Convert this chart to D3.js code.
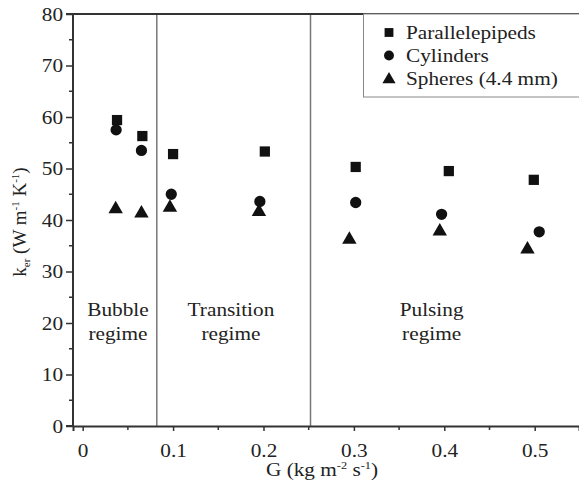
<!DOCTYPE html>
<html>
<head>
<meta charset="utf-8">
<script src="https://cdn.jsdelivr.net/npm/d3@7"></script>
<style>
  body { margin: 0; background: #fff; }
</style>
</head>
<body>
<svg id="chart"></svg>
<script>
// values
const gPar = [0.038, 0.066, 0.100, 0.2015, 0.302, 0.405, 0.499];
const kPar = [59.4, 56.3, 52.8, 53.3, 50.3, 49.5, 47.8];
const gCyl = [0.037, 0.065, 0.098, 0.196, 0.302, 0.397, 0.505];
const kCyl = [57.5, 53.5, 45.0, 43.6, 43.4, 41.1, 37.7];
const gSph = [0.0365, 0.065, 0.0965, 0.195, 0.295, 0.395, 0.492];
const kSph = [42.3, 41.5, 42.6, 41.8, 36.4, 38.0, 34.5];
const regimeBounds = [0.082, 0.252];
const regimes = [
  { x: 0.039, lines: ["Bubble", "regime"] },
  { x: 0.164, lines: ["Transition", "regime"] },
  { x: 0.386, lines: ["Pulsing", "regime"] }
];
const xTicks = [0, 0.1, 0.2, 0.3, 0.4, 0.5];
const yTicks = [0, 10, 20, 30, 40, 50, 60, 70, 80];
const seriesNames = ["Parallelepipeds", "Cylinders", "Spheres (4.4 mm)"];

const width = 579, height = 487;
const FONT = '"Liberation Serif", "Times New Roman", serif';
const FS = 19, SX = 1.12;   // the figure's type is a little wide, so stretch it

const svg = d3.select("#chart").attr("width", width).attr("height", height);

const x = d3.scaleLinear().domain([-0.0107, 0.549]).range([73, 579]);
const y = d3.scaleLinear().domain([0, 80]).range([426, 14]);

const ink = "#111";

// text placed at (px, py) with the horizontal stretch
function label(px, py, anchor) {
  return svg.append("text")
    .attr("transform", `translate(${px},${py}) scale(${SX},1)`)
    .attr("text-anchor", anchor || "start")
    .style("font-family", FONT)
    .style("font-size", FS + "px")
    .attr("fill", "#222");
}

// regime separators
svg.append("g").selectAll("line")
  .data(regimeBounds)
  .enter().append("line")
  .attr("x1", d => x(d)).attr("x2", d => x(d))
  .attr("y1", y(80)).attr("y2", y(0))
  .attr("stroke", "#777").attr("stroke-width", 1.5);

// regime labels
regimes.forEach(r => {
  r.lines.forEach((s, i) => {
    label(x(r.x), 316 + i * 24, "middle").text(s);
  });
});

// axes
let xAxis = svg.append("g")
  .attr("transform", `translate(0,${y(0)})`)
  .call(d3.axisBottom(x).tickValues(xTicks).tickSize(5).tickPadding(6)
    .tickFormat(d => d === 0 ? "0" : d3.format(".1f")(d)));
xAxis.append("g").selectAll("line")
  .data([0.05, 0.15, 0.25, 0.35, 0.45])
  .enter().append("line")
  .attr("x1", d => x(d)).attr("x2", d => x(d))
  .attr("y1", 0).attr("y2", 4)
  .attr("stroke", "#333").attr("stroke-width", 1.5);

let yAxis = svg.append("g")
  .attr("transform", `translate(${x.range()[0]},0)`)
  .call(d3.axisLeft(y).tickValues(yTicks).tickSize(7).tickPadding(3));
yAxis.append("g").selectAll("line")
  .data([5, 15, 25, 35, 45, 55, 65, 75])
  .enter().append("line")
  .attr("y1", d => y(d)).attr("y2", d => y(d))
  .attr("x1", 0).attr("x2", -4)
  .attr("stroke", "#333").attr("stroke-width", 1.5);

[xAxis, yAxis].forEach(a => {
  a.select(".domain").attr("stroke", "#333").attr("stroke-width", 2);
  a.selectAll(".tick line").attr("stroke", "#333").attr("stroke-width", 1.5);
  a.selectAll(".tick text")
    .style("font-family", FONT)
    .style("font-size", FS + "px")
    .attr("fill", "#222")
    .attr("transform", `scale(${SX},1)`);
});
xAxis.selectAll(".tick text").attr("dy", "1.05em");
yAxis.selectAll(".tick text").attr("x", -10 / SX).attr("dy", "0.34em");
yAxis.selectAll(".domain").attr("d", `M-7,${y(80)}H0V${y(0)}H-7`);

// top frame
svg.append("line")
  .attr("x1", x.range()[0]).attr("x2", width)
  .attr("y1", y(80)).attr("y2", y(80))
  .attr("stroke", "#333").attr("stroke-width", 2);

// markers
const shapes = [d3.symbolSquare, d3.symbolCircle, d3.symbolTriangle];
const sizes = [105, 100, 90];
const series = [
  gPar.map((g, i) => ({ g: g, k: kPar[i] })),
  gCyl.map((g, i) => ({ g: g, k: kCyl[i] })),
  gSph.map((g, i) => ({ g: g, k: kSph[i] }))
];
series.forEach((s, si) => {
  svg.append("g").selectAll("path")
    .data(s)
    .enter().append("path")
    .attr("d", d3.symbol().type(shapes[si]).size(sizes[si]))
    .attr("transform", d => `translate(${x(d.g)},${y(d.k) + (si === 2 ? 1 : 0)})`)
    .attr("fill", ink);
});

// legend
svg.append("rect")
  .attr("x", 363.5).attr("y", y(80))
  .attr("width", width - 363).attr("height", 83)
  .attr("fill", "#fff").attr("stroke", "#888").attr("stroke-width", 1);
const legendSizes = [78, 78, 75];
seriesNames.forEach((name, i) => {
  let yy = 32.5 + i * 23;
  svg.append("path")
    .attr("d", d3.symbol().type(shapes[i]).size(legendSizes[i]))
    .attr("transform", `translate(389,${yy + (i === 2 ? 1 : 0)})`)
    .attr("fill", ink);
  label(406, yy + 6).text(name);
});

// axis titles
let xt = label(322, 476, "middle");
xt.append("tspan").text("G (kg m");
xt.append("tspan").style("font-size", "11px").attr("dy", -7).text("-2");
xt.append("tspan").attr("dy", 7).text(" s");
xt.append("tspan").style("font-size", "11px").attr("dy", -7).text("-1");
xt.append("tspan").attr("dy", 7).text(")");

let yt = svg.append("text")
  .attr("transform", `translate(26,${(y(0) + y(80)) / 2 + 2}) rotate(-90)`)
  .attr("text-anchor", "middle")
  .style("font-family", FONT)
  .style("font-size", FS + "px")
  .attr("fill", "#222");
yt.append("tspan").text("k");
yt.append("tspan").style("font-size", "11px").attr("dy", 4).text("er");
yt.append("tspan").attr("dy", -4).text(" (W m");
yt.append("tspan").style("font-size", "11px").attr("dy", -7).text("-1");
yt.append("tspan").attr("dy", 7).text(" K");
yt.append("tspan").style("font-size", "11px").attr("dy", -7).text("-1");
yt.append("tspan").attr("dy", 7).text(")");
</script>
</body>
</html>
